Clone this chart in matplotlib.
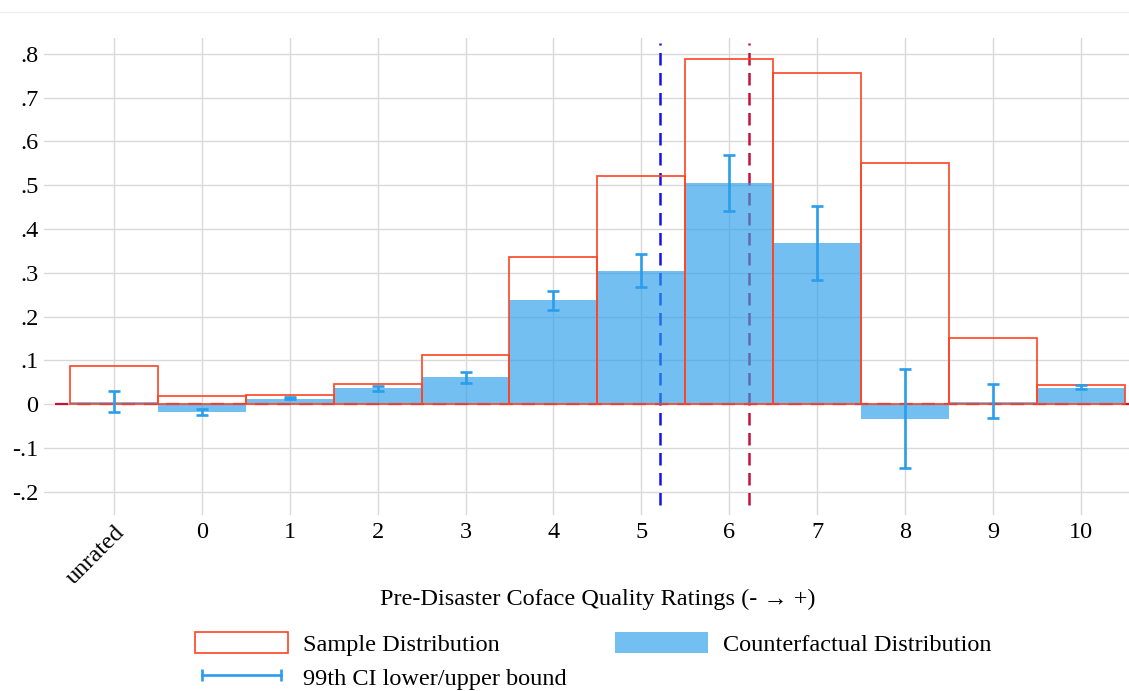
"""Sample vs counterfactual distribution over pre-disaster Coface ratings."""

import matplotlib
matplotlib.use("Agg")
import matplotlib.pyplot as plt
import numpy as np
from matplotlib.lines import Line2D
from matplotlib.patches import Rectangle

# ratings shown on the x axis
categories = ["unrated", "0", "1", "2", "3", "4", "5", "6", "7", "8", "9", "10"]
sample_dist = [0.087, 0.018, 0.021, 0.045, 0.112, 0.336, 0.520, 0.789, 0.756, 0.551, 0.151, 0.043]
counterfactual = [0.005, -0.018, 0.012, 0.037, 0.061, 0.237, 0.305, 0.506, 0.367, -0.034, 0.004, 0.038]
ci_lower = [-0.017, -0.024, 0.011, 0.030, 0.048, 0.215, 0.267, 0.441, 0.283, -0.145, -0.031, 0.034]
ci_upper = [0.031, -0.011, 0.017, 0.041, 0.073, 0.258, 0.344, 0.568, 0.453, 0.080, 0.045, 0.044]
# mean ratings (rating units, 0 = first numeric rating)
mean_counterfactual = 5.21
mean_sample = 6.22

yticks = [-0.2, -0.1, 0, 0.1, 0.2, 0.3, 0.4, 0.5, 0.6, 0.7, 0.8]
ytick_labels = ["-.2", "-.1", "0", ".1", ".2", ".3", ".4", ".5", ".6", ".7", ".8"]

SERIF = ["Liberation Serif", "DejaVu Serif"]
plt.rcParams["font.family"] = SERIF
FS = 17.5

RED = "#FF4422"
BLUE_FILL = "#2A9DEB"
CI_BLUE = "#2A9DEB"

W, H = 1129, 691
fig = plt.figure(figsize=(W / 100, H / 100), dpi=100)
ax = fig.add_axes([44 / W, 1 - 515 / H, 1 - 44 / W, (515 - 38) / H])

x = np.arange(len(categories))

# zero line starts a little inside the plot region, like the original
ax.axhline(0, xmin=0.0101, color="#C8103C", linewidth=1.6, dashes=(6, 4), zorder=1)
ax.axvline(mean_counterfactual + 1, ymin=0.02, ymax=0.99, color="#1414E6",
           linewidth=1.8, dashes=(5, 3), zorder=1)
ax.axvline(mean_sample + 1, ymin=0.02, ymax=0.99, color="#C8103C",
           linewidth=1.8, dashes=(5, 3), zorder=1)

ax.bar(x, sample_dist, width=1.0, facecolor="none", edgecolor=RED,
       linewidth=1.2, zorder=3)
ax.bar(x, counterfactual, width=1.0, color=BLUE_FILL, alpha=0.65,
       linewidth=0, zorder=2)

lo = np.array(ci_lower)
hi = np.array(ci_upper)
ax.errorbar(x, (lo + hi) / 2, yerr=(hi - lo) / 2,
            fmt="none", ecolor=CI_BLUE, elinewidth=1.9, capsize=4.5,
            capthick=1.9, zorder=4)

ax.set_xlim(-0.795, 11.547)
ax.set_ylim(-0.253, 0.836)
ax.set_yticks(yticks)
ax.set_yticklabels(ytick_labels)
ax.set_xticks(x)
ax.set_xticklabels(categories)
ax.tick_params(axis="both", length=0, labelsize=FS)
ax.tick_params(axis="x", pad=5)
ax.tick_params(axis="y", pad=4)
for lab in ax.get_xticklabels():
    if lab.get_text() == "unrated":
        lab.set_rotation(45)
        lab.set_ha("right")
        lab.set_va("top")
        lab.set_rotation_mode("anchor")

ax.grid(True, color="#D9D9D9", linewidth=1.0)
ax.set_axisbelow(True)
for side in ax.spines.values():
    side.set_visible(False)

ax.set_xlabel("Pre-Disaster Coface Quality Ratings (- \u2192 +)", fontsize=FS)
ax.xaxis.set_label_coords(598 / W, 1 - 589 / H, transform=fig.transFigure)

# faint border line at the very top of the graph region
fig.add_artist(Line2D([0, 1], [1 - 12 / H, 1 - 12 / H], color="#EEEEEE",
                      linewidth=1.0, transform=fig.transFigure))

handles = [
    Rectangle((0, 0), 1, 1, facecolor="white", edgecolor=RED, linewidth=1.2),
    Line2D([0], [0], color=CI_BLUE, linewidth=1.9, marker="|", markersize=9,
           markeredgewidth=1.9),
    Rectangle((0, 0), 1, 1, facecolor=BLUE_FILL, alpha=0.65, linewidth=0),
]
labels = ["Sample Distribution", "99th CI lower/upper bound", "Counterfactual Distribution"]
fig.legend(handles, labels, loc="upper left", bbox_to_anchor=(195 / W, 1 - 632 / H),
           ncol=2, frameon=False, fontsize=FS, handlelength=3.83, handleheight=0.95,
           handletextpad=0.62, columnspacing=1.97, labelspacing=0.42, borderpad=0,
           borderaxespad=0, numpoints=2)

fig.savefig("out.png", dpi=100)
plt.close(fig)
